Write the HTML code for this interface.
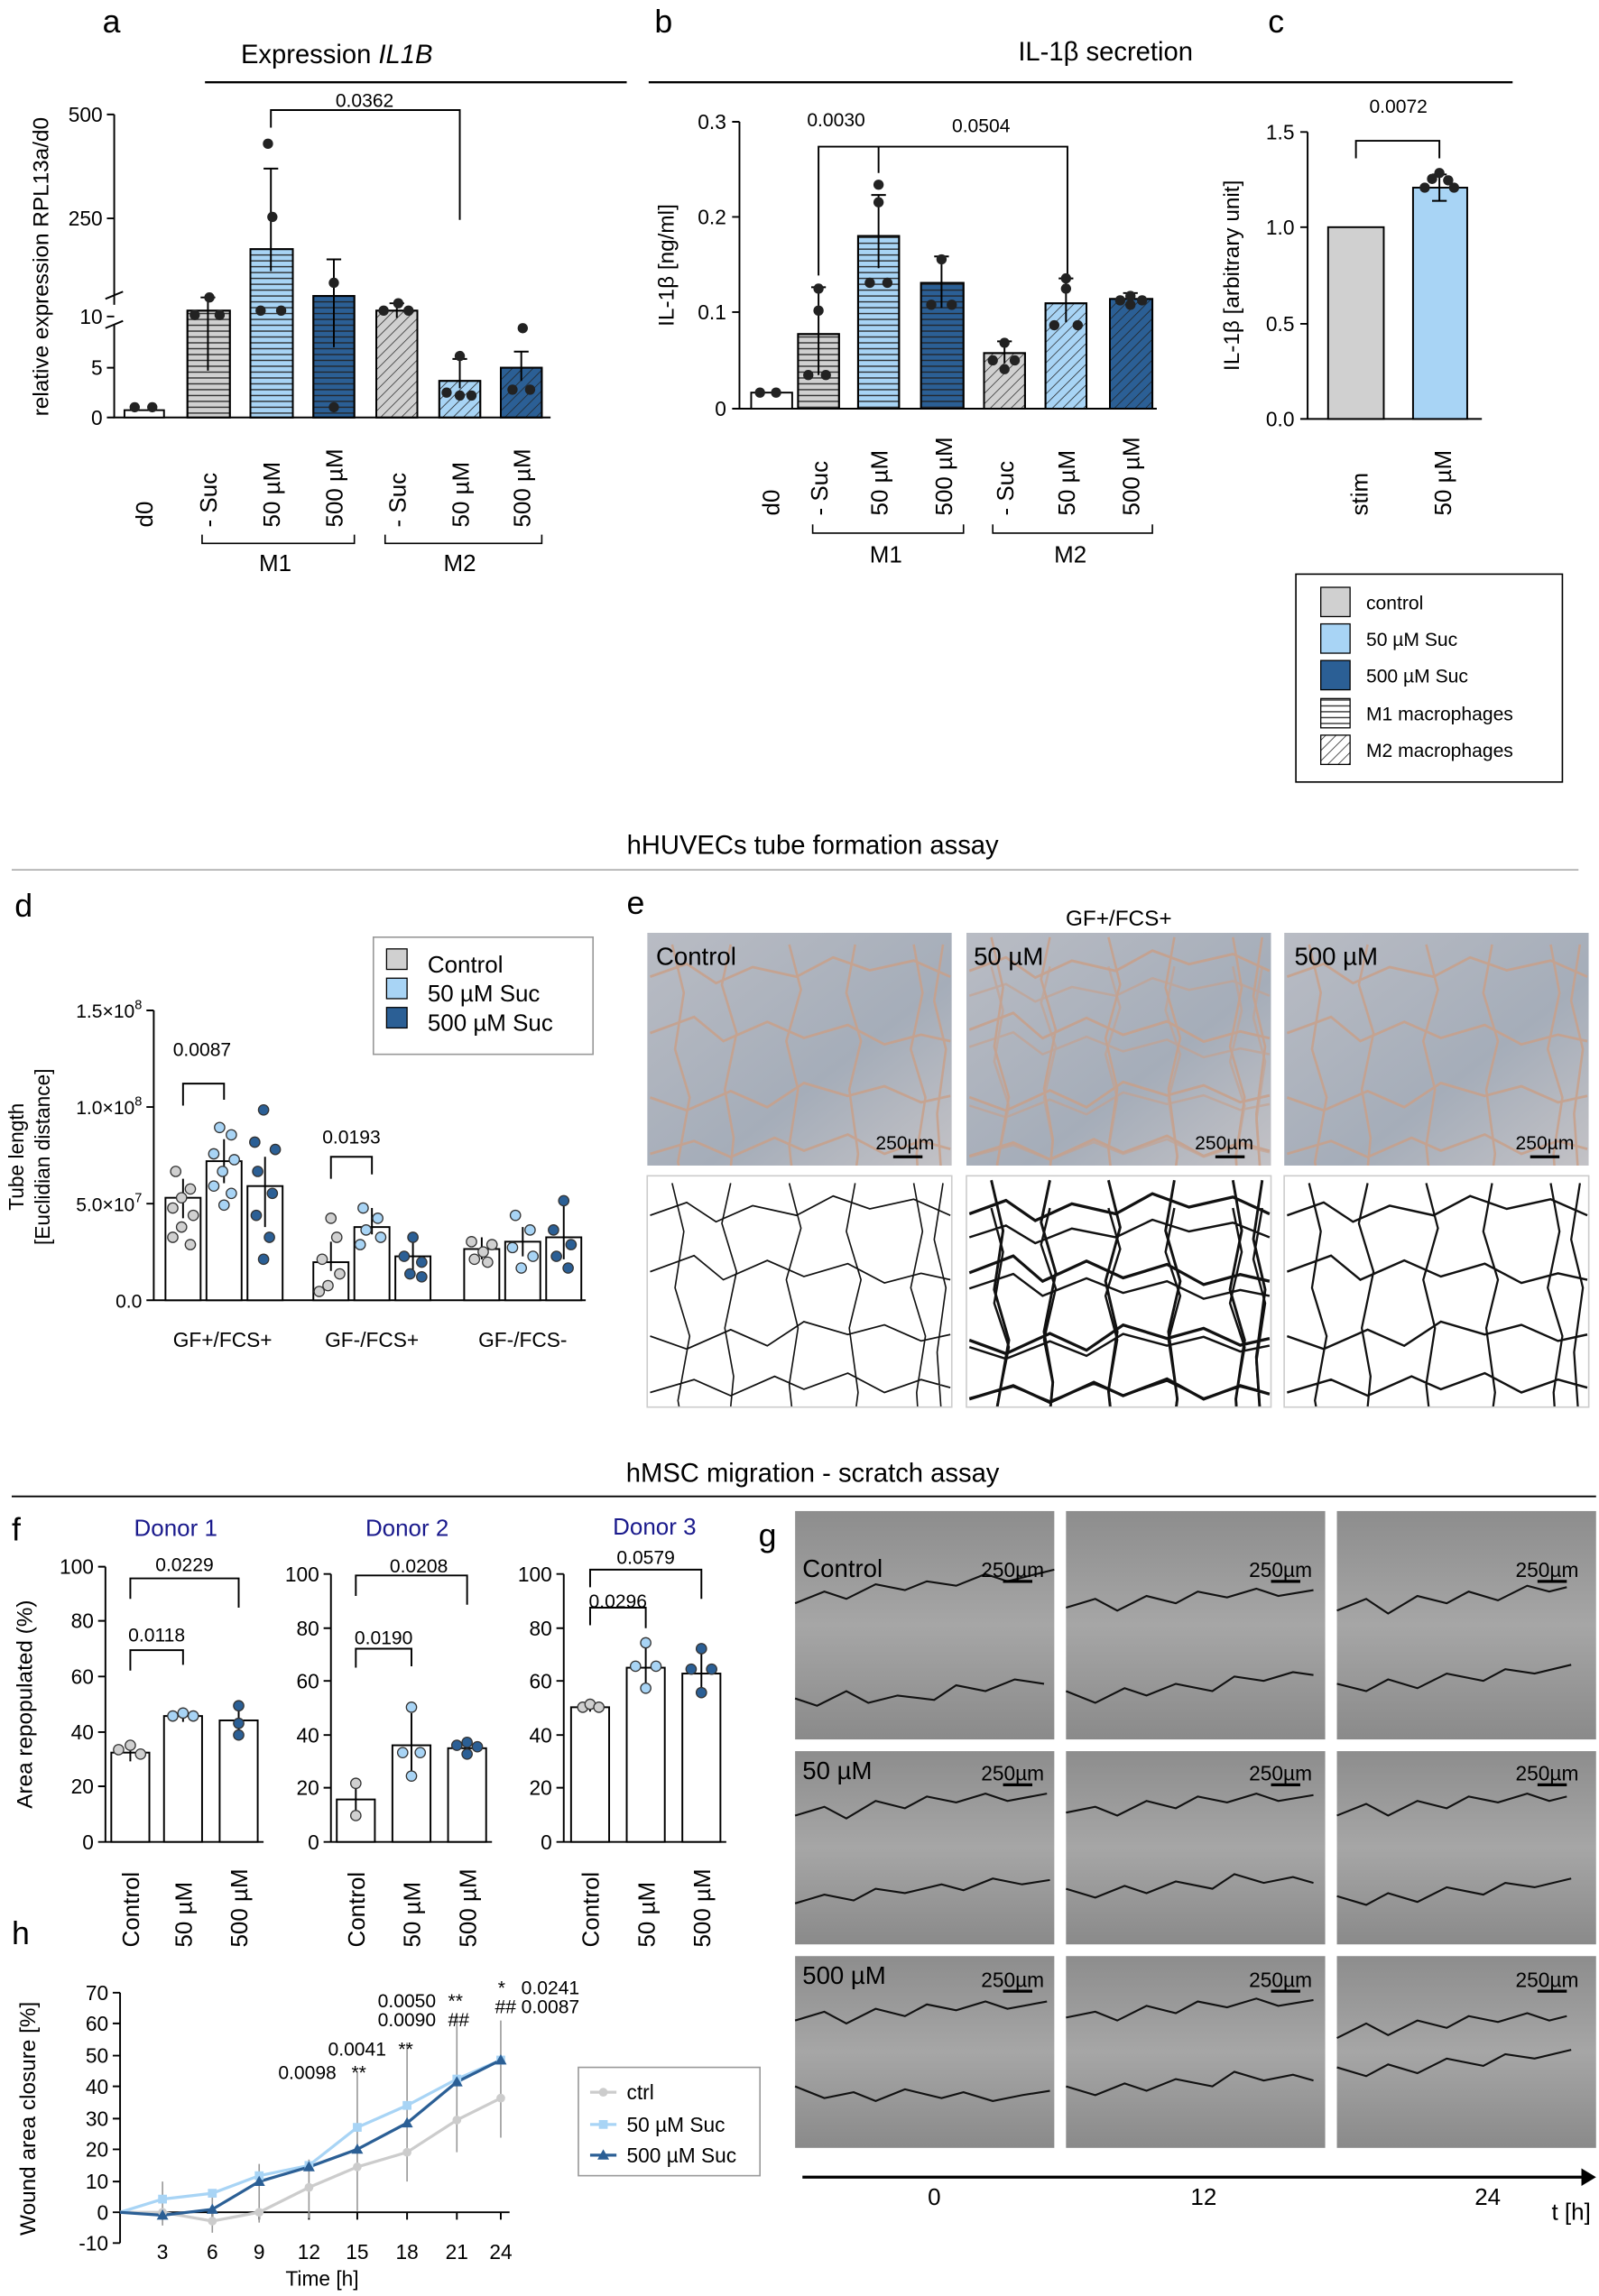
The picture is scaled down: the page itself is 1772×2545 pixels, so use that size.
<!DOCTYPE html>
<html><head><meta charset="utf-8"><style>
html,body{margin:0;padding:0;background:#fff}
svg{display:block}
text{font-family:"Liberation Sans",Arial,sans-serif;fill:#000}
text.blue{fill:#1a1a8c}
</style></head><body>
<svg width="1772" height="2545" viewBox="0 0 1092 1568" xmlns="http://www.w3.org/2000/svg">
<defs>
<pattern id="hs" width="6" height="4" patternUnits="userSpaceOnUse"><line x1="0" y1="2" x2="6" y2="2" stroke="#222" stroke-width="0.8"/></pattern>
<pattern id="dg" width="5" height="5" patternUnits="userSpaceOnUse" patternTransform="rotate(45)"><line x1="0" y1="0" x2="0" y2="5" stroke="#222" stroke-width="0.9"/></pattern>
<linearGradient id="ph" x1="0" y1="0" x2="1" y2="1"><stop offset="0" stop-color="#b9bcc4"/><stop offset="0.6" stop-color="#a5adb9"/><stop offset="1" stop-color="#c3c2c6"/></linearGradient>
<linearGradient id="sc" x1="0" y1="0" x2="0" y2="1"><stop offset="0" stop-color="#8d8d8d"/><stop offset="0.5" stop-color="#a6a6a6"/><stop offset="1" stop-color="#8a8a8a"/></linearGradient>
<path id="net" d="M0 20l25-8 20 12 25-10 30 6 25-12 25 8 30-6 25 10M0 55l30-10 20 15 30-12 25 10 30-8 25 12 25-6 20 4M0 95l25 8 30-12 25 10 25-15 30 8 25-6 25 10 20-4M0 130l30-8 25 10 30-12 20 8 30-10 25 12 25-8 20 5M15 0l8 30-6 35 10 30-8 40 5 25M55 0l-6 25 10 30-8 35 6 30-4 38M95 0l8 28-10 32 8 30-6 35 4 33M140 0l-6 30 10 30-8 30 6 40-4 28M180 0l6 30-8 35 10 30-6 35 2 28M200 0l-6 35 8 30-6 40 4 53"/>
</defs>
<g font-size="14">
<!-- ===== Panel a ===== -->
<text x="70" y="22" font-size="22">a</text>
<text x="230" y="43" font-size="18" text-anchor="middle">Expression <tspan font-style="italic">IL1B</tspan></text>
<line x1="140" y1="56" x2="428" y2="56" stroke="#000" stroke-width="1.5"/>
<g stroke="#000" stroke-width="1.2" fill="none">
<path d="M78 78V208M78 222V285H376"/><path d="M72 204l12-5M72 224l12-5"/>
<path d="M73 78h5M73 149h5M73 216h5M73 251h5M73 285h5"/>
</g>
<g text-anchor="end"><text x="70" y="83">500</text><text x="70" y="154">250</text><text x="70" y="221">10</text><text x="70" y="256">5</text><text x="70" y="290">0</text></g>
<text transform="translate(33 182) rotate(-90)" text-anchor="middle" font-size="15">relative expression RPL13a/d0</text>
<g stroke="#000" stroke-width="1.2">
<rect x="85" y="280" width="27" height="5" fill="#fff"/>
<rect x="128" y="212" width="29" height="73" fill="#d0d0d0"/><rect x="128" y="212" width="29" height="73" fill="url(#hs)"/>
<rect x="171" y="170" width="29" height="115" fill="#a8d4f5"/><rect x="171" y="170" width="29" height="115" fill="url(#hs)"/>
<rect x="214" y="202" width="28" height="83" fill="#2b5f95"/><rect x="214" y="202" width="28" height="83" fill="url(#hs)"/>
<rect x="257" y="212" width="28" height="73" fill="#d0d0d0"/><rect x="257" y="212" width="28" height="73" fill="url(#dg)"/>
<rect x="300" y="260" width="28" height="25" fill="#a8d4f5"/><rect x="300" y="260" width="28" height="25" fill="url(#dg)"/>
<rect x="342" y="251" width="28" height="34" fill="#2b5f95"/><rect x="342" y="251" width="28" height="34" fill="url(#dg)"/>
</g>
<g stroke="#000" stroke-width="1.2" fill="none">
<path d="M142 203v50M137 203h10M185 115v70M180 115h10M228 177v60M223 177h10M271 207v10M266 207h10M314 245v20M309 245h10M356 240v20M351 240h10"/>
<path d="M185 87v-12h129v75"/>
</g>
<text x="249" y="73" text-anchor="middle" font-size="13">0.0362</text>
<g fill="#222"><circle cx="92" cy="278" r="3.5"/><circle cx="104" cy="278" r="3.5"/>
<circle cx="133" cy="215" r="3.5"/><circle cx="143" cy="203" r="3.5"/><circle cx="150" cy="215" r="3.5"/>
<circle cx="183" cy="98" r="3.5"/><circle cx="186" cy="148" r="3.5"/><circle cx="178" cy="212" r="3.5"/><circle cx="192" cy="212" r="3.5"/>
<circle cx="228" cy="193" r="3.5"/><circle cx="228" cy="278" r="3.5"/>
<circle cx="262" cy="212" r="3.5"/><circle cx="272" cy="207" r="3.5"/><circle cx="279" cy="212" r="3.5"/>
<circle cx="314" cy="243" r="3.5"/><circle cx="305" cy="268" r="3.5"/><circle cx="314" cy="270" r="3.5"/><circle cx="322" cy="270" r="3.5"/>
<circle cx="357" cy="224" r="3.5"/><circle cx="350" cy="266" r="3.5"/><circle cx="362" cy="266" r="3.5"/></g>
<g font-size="16">
<text transform="translate(104 360) rotate(-90)">d0</text>
<text transform="translate(148 360) rotate(-90)">- Suc</text>
<text transform="translate(191 360) rotate(-90)">50 µM</text>
<text transform="translate(234 360) rotate(-90)">500 µM</text>
<text transform="translate(277 360) rotate(-90)">- Suc</text>
<text transform="translate(320 360) rotate(-90)">50 µM</text>
<text transform="translate(362 360) rotate(-90)">500 µM</text>
</g>
<path d="M138 365v6h104v-6M263 365v6h107v-6" stroke="#000" fill="none"/>
<text x="188" y="390" font-size="16" text-anchor="middle">M1</text><text x="314" y="390" font-size="16" text-anchor="middle">M2</text>

<!-- ===== Panel b ===== -->
<text x="447" y="22" font-size="22">b</text>
<text x="755" y="41" font-size="18" text-anchor="middle">IL-1β secretion</text>
<line x1="443" y1="56" x2="1033" y2="56" stroke="#000" stroke-width="1.5"/>
<g stroke="#000" stroke-width="1.2" fill="none"><path d="M505 83V279H790M500 83h5M500 148h5M500 213h5M500 279h5"/></g>
<g text-anchor="end"><text x="496" y="88">0.3</text><text x="496" y="153">0.2</text><text x="496" y="218">0.1</text><text x="496" y="284">0</text></g>
<text transform="translate(460 181) rotate(-90)" text-anchor="middle" font-size="15">IL-1β [ng/ml]</text>
<g stroke="#000" stroke-width="1.2">
<rect x="513" y="268" width="28" height="11" fill="#fff"/>
<rect x="545" y="228" width="28" height="51" fill="#d0d0d0"/><rect x="545" y="228" width="28" height="51" fill="url(#hs)"/>
<rect x="586" y="161" width="28" height="118" fill="#a8d4f5"/><rect x="586" y="161" width="28" height="118" fill="url(#hs)"/>
<rect x="629" y="193" width="29" height="86" fill="#2b5f95"/><rect x="629" y="193" width="29" height="86" fill="url(#hs)"/>
<rect x="672" y="241" width="28" height="38" fill="#d0d0d0"/><rect x="672" y="241" width="28" height="38" fill="url(#dg)"/>
<rect x="714" y="207" width="28" height="72" fill="#a8d4f5"/><rect x="714" y="207" width="28" height="72" fill="url(#dg)"/>
<rect x="758" y="204" width="29" height="75" fill="#2b5f95"/><rect x="758" y="204" width="29" height="75" fill="url(#dg)"/>
</g>
<g stroke="#000" stroke-width="1.2" fill="none">
<path d="M559 196v60M554 196h10M600 133v50M595 133h10M643 175v35M638 175h10M686 233v15M681 233h10M728 190v30M723 190h10M772 200v8M767 200h10"/>
<path d="M559 188V100h41v18M600 100h129v88"/>
</g>
<text x="571" y="86" text-anchor="middle" font-size="13">0.0030</text><text x="670" y="90" text-anchor="middle" font-size="13">0.0504</text>
<g fill="#222"><circle cx="519" cy="268" r="3.5"/><circle cx="530" cy="268" r="3.5"/>
<circle cx="559" cy="197" r="3.5"/><circle cx="559" cy="212" r="3.5"/><circle cx="552" cy="256" r="3.5"/><circle cx="564" cy="256" r="3.5"/>
<circle cx="600" cy="126" r="3.5"/><circle cx="600" cy="138" r="3.5"/><circle cx="594" cy="193" r="3.5"/><circle cx="606" cy="193" r="3.5"/>
<circle cx="643" cy="177" r="3.5"/><circle cx="636" cy="208" r="3.5"/><circle cx="650" cy="208" r="3.5"/>
<circle cx="686" cy="234" r="3.5"/><circle cx="678" cy="246" r="3.5"/><circle cx="693" cy="246" r="3.5"/><circle cx="686" cy="252" r="3.5"/>
<circle cx="728" cy="190" r="3.5"/><circle cx="728" cy="197" r="3.5"/><circle cx="720" cy="222" r="3.5"/><circle cx="736" cy="222" r="3.5"/>
<circle cx="765" cy="205" r="3.5"/><circle cx="772" cy="202" r="3.5"/><circle cx="780" cy="205" r="3.5"/><circle cx="772" cy="208" r="3.5"/></g>
<g font-size="16">
<text transform="translate(532 352) rotate(-90)">d0</text>
<text transform="translate(565 352) rotate(-90)">- Suc</text>
<text transform="translate(606 352) rotate(-90)">50 µM</text>
<text transform="translate(650 352) rotate(-90)">500 µM</text>
<text transform="translate(692 352) rotate(-90)">- Suc</text>
<text transform="translate(734 352) rotate(-90)">50 µM</text>
<text transform="translate(778 352) rotate(-90)">500 µM</text>
</g>
<path d="M555 358v6h103v-6M678 358v6h109v-6" stroke="#000" fill="none"/>
<text x="605" y="384" font-size="16" text-anchor="middle">M1</text><text x="731" y="384" font-size="16" text-anchor="middle">M2</text>

<!-- ===== Panel c ===== -->
<text x="866" y="22" font-size="22">c</text>
<g stroke="#000" stroke-width="1.2" fill="none"><path d="M893 90V286H1012M888 90h5M888 155h5M888 221h5M888 286h5"/></g>
<g text-anchor="end"><text x="884" y="95">1.5</text><text x="884" y="160">1.0</text><text x="884" y="226">0.5</text><text x="884" y="291">0.0</text></g>
<text transform="translate(846 188) rotate(-90)" text-anchor="middle" font-size="15">IL-1β [arbitrary unit]</text>
<rect x="907" y="155" width="38" height="131" fill="#d0d0d0" stroke="#000" stroke-width="1.2"/>
<rect x="965" y="128" width="37" height="158" fill="#a8d4f5" stroke="#000" stroke-width="1.2"/>
<path d="M983 119v18M978 119h10M978 137h10" stroke="#000" fill="none" stroke-width="1.2"/>
<text x="955" y="77" text-anchor="middle" font-size="13">0.0072</text>
<path d="M926 108V96h57v12" stroke="#000" fill="none" stroke-width="1.2"/>
<g fill="#222"><circle cx="983" cy="118" r="3.5"/><circle cx="973" cy="128" r="3.5"/><circle cx="993" cy="128" r="3.5"/><circle cx="978" cy="122" r="3.5"/><circle cx="989" cy="123" r="3.5"/></g>
<g font-size="16"><text transform="translate(934 352) rotate(-90)">stim</text><text transform="translate(991 352) rotate(-90)">50 µM</text></g>

<!-- legend -->
<rect x="885" y="392" width="182" height="142" fill="#fff" stroke="#000" stroke-width="1"/>
<g stroke="#000" stroke-width="0.8">
<rect x="902" y="401" width="20" height="20" fill="#d0d0d0"/>
<rect x="902" y="426" width="20" height="20" fill="#a8d4f5"/>
<rect x="902" y="451" width="20" height="20" fill="#2b5f95"/>
<rect x="902" y="477" width="20" height="20" fill="url(#hs)"/>
<rect x="902" y="502" width="20" height="20" fill="url(#dg)"/>
</g>
<g font-size="13"><text x="933" y="416">control</text><text x="933" y="441">50 µM Suc</text><text x="933" y="466">500 µM Suc</text><text x="933" y="492">M1 macrophages</text><text x="933" y="517">M2 macrophages</text></g>

<!-- ===== Section HUVEC ===== -->
<text x="555" y="583" font-size="18" text-anchor="middle">hHUVECs tube formation assay</text>
<line x1="8" y1="594" x2="1078" y2="594" stroke="#aaa" stroke-width="1"/>
<text x="10" y="626" font-size="22">d</text>
<g stroke="#000" stroke-width="1.2" fill="none"><path d="M105 690V888H400M100 690h5M100 756h5M100 822h5M100 888h5"/></g>
<g text-anchor="end" font-size="13"><text x="97" y="695">1.5×10<tspan font-size="9" dy="-6">8</tspan></text><text x="97" y="761">1.0×10<tspan font-size="9" dy="-6">8</tspan></text><text x="97" y="827">5.0×10<tspan font-size="9" dy="-6">7</tspan></text><text x="97" y="893">0.0</text></g>
<text transform="translate(16 790) rotate(-90)" text-anchor="middle" font-size="14">Tube length</text>
<text transform="translate(34 790) rotate(-90)" text-anchor="middle" font-size="14">[Euclidian distance]</text>
<g stroke="#000" stroke-width="1.2">
<rect x="113" y="818" width="24" height="70" fill="#fff"/><rect x="141" y="793" width="24" height="95" fill="#fff"/><rect x="169" y="810" width="24" height="78" fill="#fff"/>
<rect x="214" y="862" width="24" height="26" fill="#fff"/><rect x="242" y="838" width="24" height="50" fill="#fff"/><rect x="270" y="858" width="24" height="30" fill="#fff"/>
<rect x="317" y="853" width="24" height="35" fill="#fff"/><rect x="345" y="848" width="24" height="40" fill="#fff"/><rect x="373" y="845" width="24" height="43" fill="#fff"/>
</g>
<g stroke="#000" fill="none" stroke-width="1.2"><path d="M125 805v27M153 778v30M181 790v48M226 848v20M254 825v18M282 845v25M329 845v15M357 838v20M385 820v40"/>
<path d="M125 755v-15h28v11M226 805v-15h28v12"/></g>
<text x="138" y="721" text-anchor="middle" font-size="13">0.0087</text><text x="240" y="781" text-anchor="middle" font-size="13">0.0193</text>
<g stroke="#333" stroke-width="0.8">
<g fill="#d0d0d0"><circle cx="120" cy="800" r="3.5"/><circle cx="130" cy="812" r="3.5"/><circle cx="118" cy="825" r="3.5"/><circle cx="132" cy="830" r="3.5"/><circle cx="124" cy="838" r="3.5"/><circle cx="118" cy="845" r="3.5"/><circle cx="130" cy="850" r="3.5"/><circle cx="124" cy="818" r="3.5"/>
<circle cx="220" cy="860" r="3.5"/><circle cx="232" cy="870" r="3.5"/><circle cx="224" cy="878" r="3.5"/><circle cx="230" cy="845" r="3.5"/><circle cx="218" cy="882" r="3.5"/><circle cx="226" cy="832" r="3.5"/>
<circle cx="322" cy="848" r="3.5"/><circle cx="330" cy="855" r="3.5"/><circle cx="336" cy="850" r="3.5"/><circle cx="324" cy="860" r="3.5"/><circle cx="333" cy="862" r="3.5"/></g>
<g fill="#a8d4f5"><circle cx="150" cy="770" r="3.5"/><circle cx="158" cy="775" r="3.5"/><circle cx="146" cy="788" r="3.5"/><circle cx="160" cy="792" r="3.5"/><circle cx="152" cy="800" r="3.5"/><circle cx="146" cy="810" r="3.5"/><circle cx="158" cy="815" r="3.5"/><circle cx="153" cy="823" r="3.5"/>
<circle cx="248" cy="825" r="3.5"/><circle cx="258" cy="832" r="3.5"/><circle cx="250" cy="840" r="3.5"/><circle cx="260" cy="845" r="3.5"/><circle cx="246" cy="850" r="3.5"/>
<circle cx="352" cy="830" r="3.5"/><circle cx="362" cy="840" r="3.5"/><circle cx="350" cy="852" r="3.5"/><circle cx="364" cy="858" r="3.5"/><circle cx="356" cy="866" r="3.5"/></g>
<g fill="#2b5f95"><circle cx="180" cy="758" r="3.5"/><circle cx="174" cy="780" r="3.5"/><circle cx="188" cy="785" r="3.5"/><circle cx="176" cy="800" r="3.5"/><circle cx="186" cy="815" r="3.5"/><circle cx="175" cy="830" r="3.5"/><circle cx="184" cy="845" r="3.5"/><circle cx="180" cy="860" r="3.5"/>
<circle cx="282" cy="845" r="3.5"/><circle cx="276" cy="858" r="3.5"/><circle cx="288" cy="862" r="3.5"/><circle cx="280" cy="870" r="3.5"/><circle cx="288" cy="872" r="3.5"/>
<circle cx="385" cy="820" r="3.5"/><circle cx="378" cy="840" r="3.5"/><circle cx="390" cy="850" r="3.5"/><circle cx="380" cy="858" r="3.5"/><circle cx="388" cy="866" r="3.5"/></g>
</g>
<g font-size="14" text-anchor="middle"><text x="152" y="920">GF+/FCS+</text><text x="254" y="920">GF-/FCS+</text><text x="357" y="920">GF-/FCS-</text></g>
<rect x="255" y="640" width="150" height="80" fill="#fff" stroke="#999"/>
<g stroke="#000" stroke-width="0.8"><rect x="264" y="648" width="14" height="14" fill="#d0d0d0"/><rect x="264" y="668" width="14" height="14" fill="#a8d4f5"/><rect x="264" y="688" width="14" height="14" fill="#2b5f95"/></g>
<g font-size="16"><text x="292" y="664">Control</text><text x="292" y="684">50 µM Suc</text><text x="292" y="704">500 µM Suc</text></g>

<!-- panel e -->
<text x="428" y="624" font-size="22">e</text>
<text x="764" y="632" font-size="15" text-anchor="middle">GF+/FCS+</text>
<svg x="442" y="637" width="208" height="159" overflow="hidden"><rect width="208" height="159" fill="url(#ph)"/><use href="#net" transform="translate(2 8) scale(1 1.1)" stroke="#c8a08a" stroke-width="1.6" fill="none" opacity="0.85"/></svg>
<svg x="660" y="637" width="208" height="159" overflow="hidden"><rect width="208" height="159" fill="url(#ph)"/><g stroke="#c8a08a" stroke-width="1.6" fill="none" opacity="0.85"><use href="#net" transform="translate(2 3) scale(1 1.15)"/><use href="#net" transform="translate(2 23)" opacity="0.7"/></g></svg>
<svg x="877" y="637" width="208" height="159" overflow="hidden"><rect width="208" height="159" fill="url(#ph)"/><use href="#net" transform="translate(2 8) scale(1 1.1)" stroke="#c8a08a" stroke-width="1.6" fill="none" opacity="0.85"/></svg>
<g>
<text x="448" y="659" font-size="17">Control</text><text x="665" y="659" font-size="17">50 µM</text><text x="884" y="659" font-size="17">500 µM</text>
<text x="598" y="785" font-size="13">250µm</text><text x="816" y="785" font-size="13">250µm</text><text x="1035" y="785" font-size="13">250µm</text></g>
<g stroke="#000" stroke-width="2"><path d="M610 790h20M830 790h20M1045 790h20"/></g>
<svg x="442" y="803" width="208" height="158" overflow="hidden"><rect width="208" height="158" fill="#fff"/><use href="#net" transform="translate(2 5) scale(1 1.1)" stroke="#111" stroke-width="1" fill="none"/></svg>
<svg x="660" y="803" width="208" height="158" overflow="hidden"><rect width="208" height="158" fill="#fff"/><g stroke="#111" fill="none"><use href="#net" transform="translate(2 3) scale(1 1.15)" stroke-width="1.8"/><use href="#net" transform="translate(2 22)" stroke-width="1.5"/></g></svg>
<svg x="877" y="803" width="208" height="158" overflow="hidden"><rect width="208" height="158" fill="#fff"/><use href="#net" transform="translate(2 5) scale(1 1.1)" stroke="#111" stroke-width="1.4" fill="none"/></svg>
<g fill="none" stroke="#ccc"><rect x="442" y="803" width="208" height="158"/><rect x="660" y="803" width="208" height="158"/><rect x="877" y="803" width="208" height="158"/></g>

<!-- ===== Section MSC ===== -->
<text x="555" y="1012" font-size="18" text-anchor="middle">hMSC migration - scratch assay</text>
<line x1="8" y1="1022" x2="1090" y2="1022" stroke="#000" stroke-width="1.2"/>
<text x="8" y="1052" font-size="22">f</text>
<g font-size="16" text-anchor="middle"><text class="blue" x="120" y="1049">Donor 1</text><text class="blue" x="278" y="1049">Donor 2</text><text class="blue" x="447" y="1048">Donor 3</text></g>
<text transform="translate(22 1164) rotate(-90)" text-anchor="middle" font-size="15">Area repopulated (%)</text>
<g stroke="#000" stroke-width="1.2" fill="none"><path d="M72 1070V1258H180M67 1070h5M67 1107h5M67 1145h5M67 1183h5M67 1220h5M67 1258h5"/>
<path d="M226 1075V1258H336M221 1075h5M221 1112h5M221 1148h5M221 1185h5M221 1221h5M221 1258h5"/>
<path d="M385 1075V1258H496M380 1075h5M380 1112h5M380 1148h5M380 1185h5M380 1221h5M380 1258h5"/></g>
<g text-anchor="end" font-size="14"><text x="64" y="1075">100</text><text x="64" y="1112">80</text><text x="64" y="1150">60</text><text x="64" y="1188">40</text><text x="64" y="1225">20</text><text x="64" y="1263">0</text>
<text x="218" y="1080">100</text><text x="218" y="1117">80</text><text x="218" y="1153">60</text><text x="218" y="1190">40</text><text x="218" y="1226">20</text><text x="218" y="1263">0</text>
<text x="377" y="1080">100</text><text x="377" y="1117">80</text><text x="377" y="1153">60</text><text x="377" y="1190">40</text><text x="377" y="1226">20</text><text x="377" y="1263">0</text></g>
<g stroke="#000" stroke-width="1.2" fill="#fff">
<rect x="76" y="1197" width="26" height="61"/><rect x="112" y="1172" width="26" height="86"/><rect x="150" y="1175" width="26" height="83"/>
<rect x="230" y="1229" width="26" height="29"/><rect x="268" y="1192" width="26" height="66"/><rect x="306" y="1194" width="26" height="64"/>
<rect x="390" y="1166" width="26" height="92"/><rect x="428" y="1139" width="26" height="119"/><rect x="466" y="1143" width="26" height="115"/>
</g>
<g stroke="#000" stroke-width="1.2" fill="none">
<path d="M89 1191v12M125 1168v8M163 1163v24M243 1218v22M281 1170v44M319 1188v12M403 1163v6M441 1125v28M479 1128v30"/>
<path d="M89 1141v-14h36v10M89 1092v-14h74v20M243 1139v-13h38v12M243 1090v-14h76v20M403 1110v-12h38v14M403 1084v-12h76v20"/>
</g>
<g font-size="13" text-anchor="middle"><text x="107" y="1121">0.0118</text><text x="126" y="1073">0.0229</text><text x="262" y="1123">0.0190</text><text x="286" y="1074">0.0208</text><text x="422" y="1098">0.0296</text><text x="441" y="1068">0.0579</text></g>
<g stroke="#333" stroke-width="0.8">
<g fill="#d0d0d0"><circle cx="81" cy="1195" r="3.5"/><circle cx="89" cy="1192" r="3.5"/><circle cx="96" cy="1198" r="3.5"/><circle cx="243" cy="1218" r="3.5"/><circle cx="243" cy="1240" r="3.5"/><circle cx="398" cy="1166" r="3.5"/><circle cx="403" cy="1164" r="3.5"/><circle cx="409" cy="1166" r="3.5"/></g>
<g fill="#a8d4f5"><circle cx="118" cy="1172" r="3.5"/><circle cx="125" cy="1170" r="3.5"/><circle cx="132" cy="1172" r="3.5"/><circle cx="281" cy="1166" r="3.5"/><circle cx="275" cy="1197" r="3.5"/><circle cx="287" cy="1197" r="3.5"/><circle cx="281" cy="1213" r="3.5"/><circle cx="441" cy="1122" r="3.5"/><circle cx="434" cy="1138" r="3.5"/><circle cx="448" cy="1138" r="3.5"/><circle cx="441" cy="1153" r="3.5"/></g>
<g fill="#2b5f95"><circle cx="163" cy="1165" r="3.5"/><circle cx="163" cy="1177" r="3.5"/><circle cx="163" cy="1185" r="3.5"/><circle cx="312" cy="1192" r="3.5"/><circle cx="319" cy="1190" r="3.5"/><circle cx="326" cy="1193" r="3.5"/><circle cx="319" cy="1198" r="3.5"/><circle cx="479" cy="1126" r="3.5"/><circle cx="472" cy="1140" r="3.5"/><circle cx="486" cy="1140" r="3.5"/><circle cx="479" cy="1156" r="3.5"/></g>
</g>
<g font-size="16">
<text transform="translate(95 1330) rotate(-90)">Control</text><text transform="translate(131 1330) rotate(-90)">50 µM</text><text transform="translate(169 1330) rotate(-90)">500 µM</text>
<text transform="translate(249 1330) rotate(-90)">Control</text><text transform="translate(287 1330) rotate(-90)">50 µM</text><text transform="translate(325 1330) rotate(-90)">500 µM</text>
<text transform="translate(409 1330) rotate(-90)">Control</text><text transform="translate(447 1330) rotate(-90)">50 µM</text><text transform="translate(485 1330) rotate(-90)">500 µM</text>
</g>

<!-- panel g -->
<text x="518" y="1056" font-size="22">g</text>
<g>
<rect x="543" y="1032" width="177" height="156" fill="url(#sc)"/><rect x="728" y="1032" width="177" height="156" fill="url(#sc)"/><rect x="913" y="1032" width="177" height="156" fill="url(#sc)"/>
<rect x="543" y="1196" width="177" height="132" fill="url(#sc)"/><rect x="728" y="1196" width="177" height="132" fill="url(#sc)"/><rect x="913" y="1196" width="177" height="132" fill="url(#sc)"/>
<rect x="543" y="1336" width="177" height="131" fill="url(#sc)"/><rect x="728" y="1336" width="177" height="131" fill="url(#sc)"/><rect x="913" y="1336" width="177" height="131" fill="url(#sc)"/>
</g>
<g stroke="#111" stroke-width="1.3" fill="none">
<path d="M543 1095l20 -8 15 5 20-10 20 4 15-6 20 3 20-8 15 5 20-5 12-3M543 1160l15 5 20-10 15 8 20-5 25 3 15-10 20 4 20-8 20 3"/>
<path d="M728 1098l20-6 15 8 20-10 20 5 15-8 20 4 20-6 15 5 24-4M728 1155l20 8 20-10 15 5 20-8 25 5 15-10 20 3 20-6 14 2"/>
<path d="M913 1100l20-8 15 10 20-12 20 5 15-8 20 6 20-10 15 4 12-3M913 1150l20 5 15-8 20 6 20-10 25 5 15-8 20 3 25-6"/>
<path d="M543 1240l20-6 15 8 20-12 20 5 15-8 20 4 20-6 15 5 27-5M543 1300l20-6 20 4 15-8 20 3 25-6 15 4 20-8 20 4 19-3"/>
<path d="M728 1238l20-4 15 6 20-10 20 5 15-8 20 4 20-6 15 5 24-4M728 1290l20 6 20-8 15 5 20-8 25 5 15-10 20 6 20-4 14 4"/>
<path d="M913 1240l20-8 15 8 20-10 20 5 15-8 20 4 20-6 15 5 12-3M913 1295l20 6 15-8 20 6 20-10 25 5 15-8 20 3 25-6"/>
<path d="M543 1380l20-6 15 8 20-10 20 5 15-8 20 4 20-6 15 5 27-5M543 1425l20 8 20-4 15 6 20-8 25 6 15-4 20 6 20-4 19-3"/>
<path d="M728 1378l20-4 15 6 20-10 20 5 15-8 20 4 20-6 15 5 24-4M728 1425l20 6 20-8 15 5 20-8 25 5 15-10 20 6 20-4 14 4"/>
<path d="M913 1392l20-10 15 8 20-10 20 5 15-8 20 4 20-6 15 5 12-3M913 1412l20 6 15-8 20 6 20-10 25 5 15-8 20 3 25-6"/>
</g>
<g><text x="548" y="1077" font-size="17">Control</text><text x="548" y="1215" font-size="17">50 µM</text><text x="548" y="1355" font-size="17">500 µM</text>
<text x="670" y="1077" font-size="14">250µm</text><text x="853" y="1077" font-size="14">250µm</text><text x="1035" y="1077" font-size="14">250µm</text>
<text x="670" y="1216" font-size="14">250µm</text><text x="853" y="1216" font-size="14">250µm</text><text x="1035" y="1216" font-size="14">250µm</text>
<text x="670" y="1357" font-size="14">250µm</text><text x="853" y="1357" font-size="14">250µm</text><text x="1035" y="1357" font-size="14">250µm</text></g>
<g stroke="#000" stroke-width="2"><path d="M685 1080h20M868 1080h20M1050 1080h20M685 1219h20M868 1219h20M1050 1219h20M685 1360h20M868 1360h20M1050 1360h20"/></g>
<path d="M548 1487H1082" stroke="#000" stroke-width="2"/><path d="M1080 1481l10 6-10 6z" fill="#000"/>
<g font-size="16" text-anchor="middle"><text x="638" y="1506">0</text><text x="822" y="1506">12</text><text x="1016" y="1506">24</text><text x="1073" y="1516">t [h]</text></g>

<!-- panel h -->
<text x="8" y="1328" font-size="22">h</text>
<g stroke="#000" stroke-width="1.2" fill="none"><path d="M82 1361V1532M77 1361h5M77 1382h5M77 1404h5M77 1425h5M77 1447h5M77 1468h5M77 1490h5M77 1511h5M77 1532h5"/>
<path d="M82 1511H348"/><path d="M111 1511v5M145 1511v5M177 1511v5M211 1511v5M244 1511v5M278 1511v5M312 1511v5M342 1511v5"/></g>
<g text-anchor="end" font-size="14"><text x="74" y="1366">70</text><text x="74" y="1387">60</text><text x="74" y="1409">50</text><text x="74" y="1430">40</text><text x="74" y="1452">30</text><text x="74" y="1473">20</text><text x="74" y="1495">10</text><text x="74" y="1516">0</text><text x="74" y="1537">-10</text></g>
<g text-anchor="middle" font-size="14"><text x="111" y="1543">3</text><text x="145" y="1543">6</text><text x="177" y="1543">9</text><text x="211" y="1543">12</text><text x="244" y="1543">15</text><text x="278" y="1543">18</text><text x="312" y="1543">21</text><text x="342" y="1543">24</text><text x="220" y="1561">Time [h]</text></g>
<text transform="translate(24 1447) rotate(-90)" text-anchor="middle" font-size="15">Wound area closure [%]</text>
<g stroke="#999" stroke-width="1" fill="none"><path d="M111 1490v30M145 1500v25M177 1478v40M211 1475v40M244 1465v45M278 1440v50M312 1410v60M342 1380v80M244 1465v-50M278 1435v-40M312 1420v-45"/></g>
<polyline points="82,1511 111,1511 145,1517 177,1511 211,1494 244,1480 278,1470 312,1448 342,1433" stroke="#ccc" stroke-width="2" fill="none"/>
<polyline points="82,1511 111,1502 145,1498 177,1486 211,1479 244,1453 278,1438 312,1420 342,1407" stroke="#a8d4f5" stroke-width="2" fill="none"/>
<polyline points="82,1511 111,1513 145,1509 177,1490 211,1480 244,1468 278,1450 312,1422 342,1407" stroke="#2b5f95" stroke-width="2" fill="none"/>
<g fill="#ccc"><circle cx="111" cy="1511" r="3"/><circle cx="145" cy="1517" r="3"/><circle cx="177" cy="1511" r="3"/><circle cx="211" cy="1494" r="3"/><circle cx="244" cy="1480" r="3"/><circle cx="278" cy="1470" r="3"/><circle cx="312" cy="1448" r="3"/><circle cx="342" cy="1433" r="3"/></g>
<g fill="#a8d4f5"><rect x="108" y="1499" width="6" height="6"/><rect x="142" y="1495" width="6" height="6"/><rect x="174" y="1483" width="6" height="6"/><rect x="208" y="1476" width="6" height="6"/><rect x="241" y="1450" width="6" height="6"/><rect x="275" y="1435" width="6" height="6"/><rect x="309" y="1417" width="6" height="6"/><rect x="339" y="1404" width="6" height="6"/></g>
<g fill="#2b5f95"><path d="M111 1509l4 7h-8zM145 1505l4 7h-8zM177 1486l4 7h-8zM211 1476l4 7h-8zM244 1464l4 7h-8zM278 1446l4 7h-8zM312 1418l4 7h-8zM342 1403l4 7h-8z"/></g>
<g font-size="13"><text x="190" y="1420">0.0098</text><text x="240" y="1420">**</text><text x="224" y="1404">0.0041</text><text x="272" y="1404">**</text>
<text x="258" y="1371">0.0050</text><text x="306" y="1371">**</text><text x="258" y="1384">0.0090</text><text x="306" y="1384">##</text>
<text x="340" y="1362">*</text><text x="338" y="1375">##</text><text x="356" y="1362">0.0241</text><text x="356" y="1375">0.0087</text></g>
<rect x="395" y="1412" width="124" height="74" fill="#fff" stroke="#999"/>
<g stroke-width="2"><path d="M403 1429h18" stroke="#ccc"/><path d="M403 1451h18" stroke="#a8d4f5"/><path d="M403 1472h18" stroke="#2b5f95"/></g>
<circle cx="412" cy="1429" r="3" fill="#ccc"/><rect x="409" y="1448" width="6" height="6" fill="#a8d4f5"/><path d="M412 1468l4 7h-8z" fill="#2b5f95"/>
<g font-size="14"><text x="428" y="1434">ctrl</text><text x="428" y="1456">50 µM Suc</text><text x="428" y="1477">500 µM Suc</text></g>
</g>
</svg>
</body></html>
